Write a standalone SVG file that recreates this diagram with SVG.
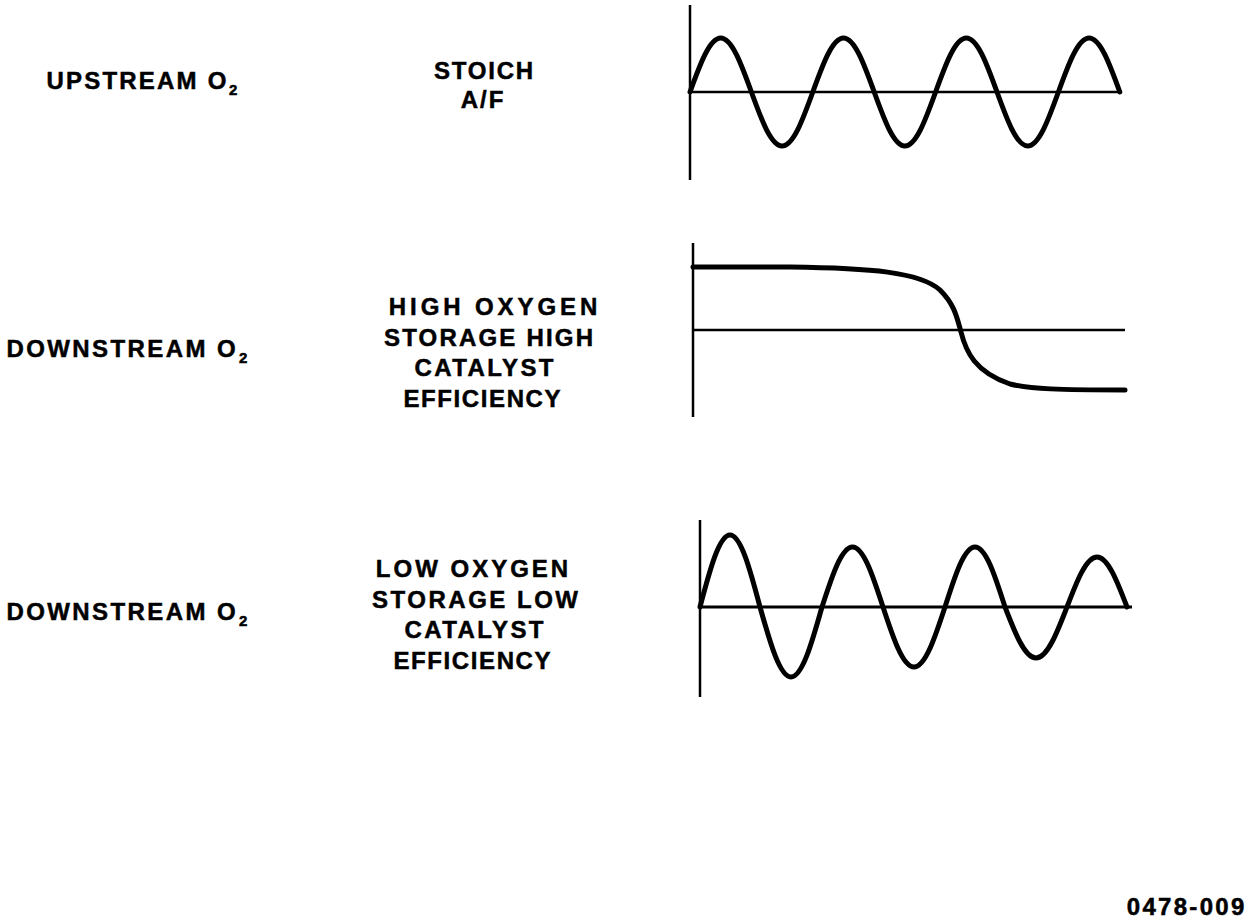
<svg xmlns="http://www.w3.org/2000/svg" width="1248" height="924" viewBox="0 0 1248 924">
<style>
.t{font-family:"Liberation Sans",Arial,Helvetica,sans-serif;font-weight:bold;font-size:24px;fill:#000;stroke:#000;stroke-width:0.5}
.c{text-anchor:middle}
.sub{font-size:15px}
.axis{stroke:#000;stroke-width:2.5;fill:none}
.base{stroke:#000;stroke-width:2.5;fill:none}
.wave{stroke:#000;stroke-width:5;fill:none;stroke-linejoin:round;stroke-linecap:round}
</style>
<rect width="1248" height="924" fill="#fff"/>
<g id="row-upstream">
<text class="t" x="46.5" y="89" letter-spacing="2.2">UPSTREAM O<tspan class="sub" x="229" dy="6" letter-spacing="0">2</tspan></text>
<text class="t c" x="484.4" y="79" letter-spacing="1.8">STOICH</text>
<text class="t c" x="483" y="108" letter-spacing="2">A/F</text>
<g id="graph-upstream">
<line class="axis" x1="690" y1="5" x2="690" y2="180"/>
<line class="base" x1="690" y1="92" x2="1122" y2="92"/>
<path class="wave" d="M690,92 c10.01,-27.66 19.59,-54 30.7,-54 c11.11,0 20.69,26.34 30.7,54 c10.01,27.66 19.59,54 30.7,54 c11.11,0 20.69,-26.34 30.7,-54 c10.01,-27.66 19.59,-54 30.7,-54 c11.11,0 20.69,26.34 30.7,54 c10.01,27.66 19.59,54 30.7,54 c11.11,0 20.69,-26.34 30.7,-54 c10.01,-27.66 19.59,-54 30.7,-54 c11.11,0 20.69,26.34 30.7,54 c10.01,27.66 19.59,54 30.7,54 c11.11,0 20.69,-26.34 30.7,-54 c10.01,-27.66 19.59,-54 30.7,-54 c11.11,0 20.69,26.34 30.7,54"/>
</g>
</g>
<g id="row-downstream-high">
<text class="t" x="6.5" y="357" letter-spacing="2.4">DOWNSTREAM O<tspan class="sub" x="239" dy="6" letter-spacing="0">2</tspan></text>
<text class="t c" x="495" y="315" letter-spacing="3.9">HIGH OXYGEN</text>
<text class="t c" x="489.6" y="345.5" letter-spacing="2.2">STORAGE HIGH</text>
<text class="t c" x="485.2" y="376" letter-spacing="2.4">CATALYST</text>
<text class="t c" x="482.8" y="406.5" letter-spacing="1.6">EFFICIENCY</text>
<g id="graph-downstream-high">
<line class="axis" x1="693" y1="243" x2="693" y2="417"/>
<line class="base" x1="693" y1="330" x2="1125" y2="330"/>
<path class="wave" d="M693,267 L790,267 C870,268 920,272 940,290 C955,305 957,318 961,332 C966,352 975,372 1010,384 C1030,389 1060,390 1125,390"/>
</g>
</g>
<g id="row-downstream-low">
<text class="t" x="6.5" y="620" letter-spacing="2.4">DOWNSTREAM O<tspan class="sub" x="239" dy="6" letter-spacing="0">2</tspan></text>
<text class="t c" x="473.5" y="577" letter-spacing="3">LOW OXYGEN</text>
<text class="t c" x="476.3" y="607.5" letter-spacing="2.5">STORAGE LOW</text>
<text class="t c" x="475.2" y="638" letter-spacing="2.4">CATALYST</text>
<text class="t c" x="472.8" y="668.5" letter-spacing="1.6">EFFICIENCY</text>
<g id="graph-downstream-low">
<line class="axis" x1="700" y1="520" x2="700" y2="697"/>
<line class="base" x1="700" y1="607" x2="1132" y2="607" style="stroke-width:3.2"/>
<path class="wave" d="M700,607 c9.78,-36.89 19.140,-72 30,-72 c10.86,0 20.22,35.11 30,72 c10.11,35.86 19.78,70 31,70 c11.22,0 20.89,-34.14 31,-70 c9.95,-30.74 19.46,-60 30.5,-60 c11.04,0 20.55,29.26 30.5,60 c10.11,30.74 19.78,60 31,60 c11.22,0 20.89,-29.26 31,-60 c9.78,-30.74 19.14,-60 30,-60 c10.86,0 20.22,29.26 30,60 c10.11,26.13 19.78,51 31,51 c11.22,0 20.89,-24.87 31,-51 c9.78,-25.62 19.14,-50 30,-50 c10.86,0 20.22,24.38 30,50"/>
</g>
</g>
<text id="figure-number" class="t c" x="1186.7" y="915" letter-spacing="2.3">0478-009</text>
</svg>
